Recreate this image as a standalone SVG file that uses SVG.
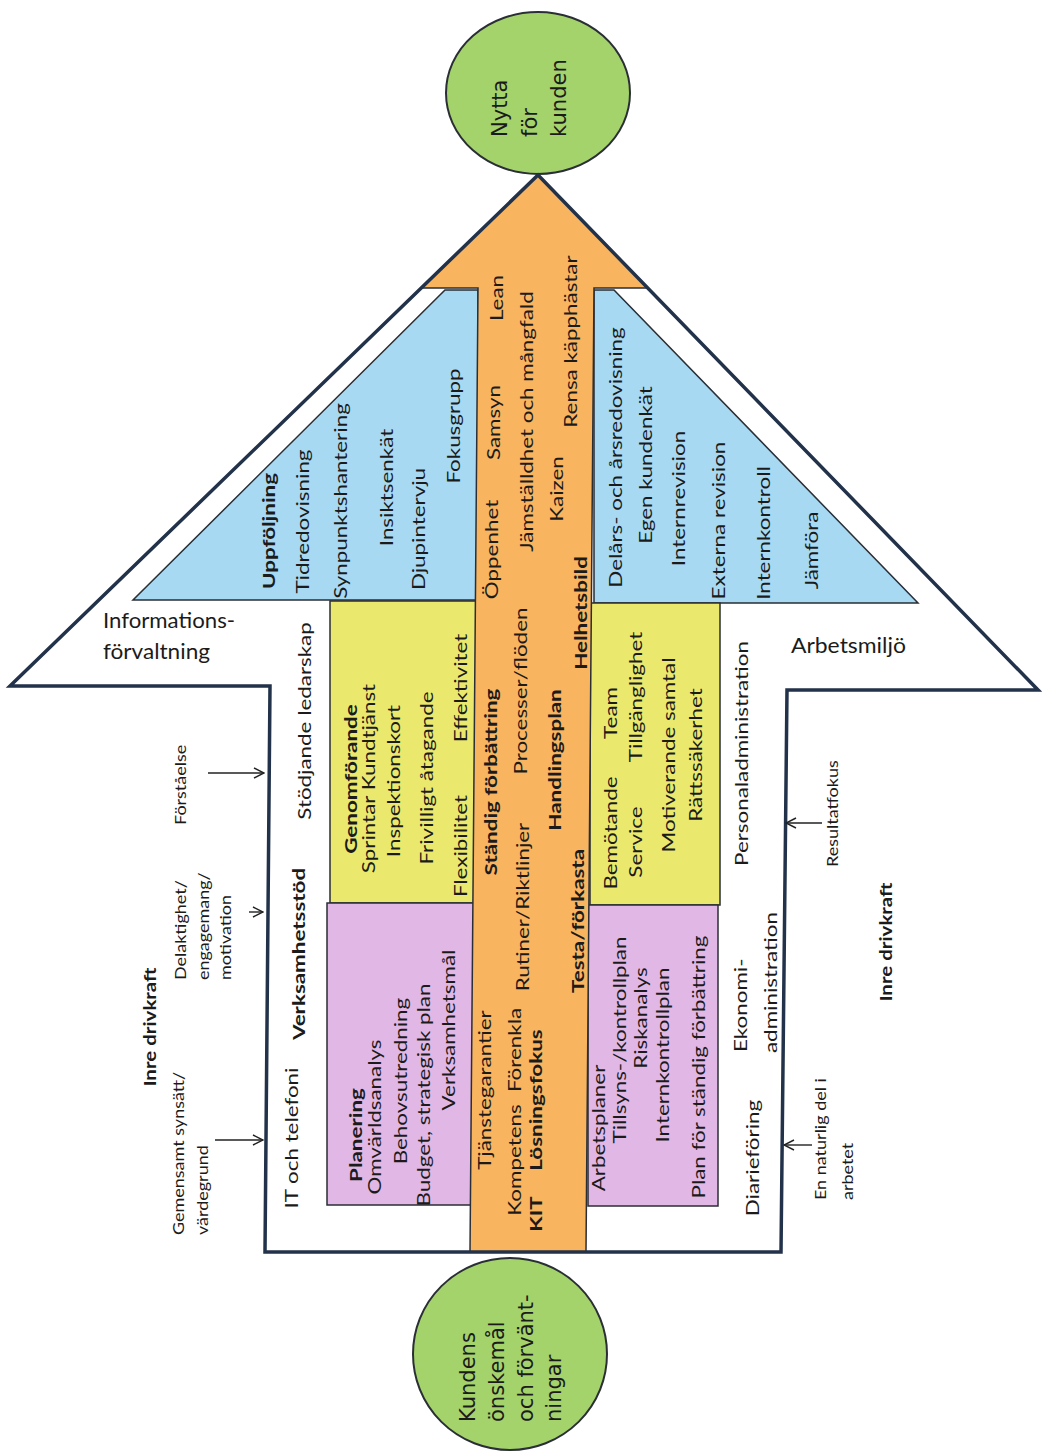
<svg xmlns="http://www.w3.org/2000/svg" width="1042" height="1455" viewBox="0 0 1042 1455">
<defs>
<style>
.t{font-family:Lato,"Liberation Sans",sans-serif;font-size:22.4px;fill:#1b1b1b;dominant-baseline:central;text-anchor:middle}
.b{font-weight:bold}
.s{font-size:18px;text-anchor:start}
.st{text-anchor:start}
.e{font-family:"DejaVu Sans",sans-serif;font-size:21px;fill:#1b1b1b;dominant-baseline:central;text-anchor:start}
.h{font-family:Lato,"Liberation Sans",sans-serif;font-size:21px;fill:#1b1b1b}
.box{stroke:#2a2e35;stroke-width:1.5}
.blue{fill:#a7d9f3}
.yellow{fill:#ebe96d}
.purple{fill:#e1b7e5}
.green{fill:#a4d36b;stroke:#2a2e35;stroke-width:2}
.conn{stroke:#222;stroke-width:1.4;fill:none;marker-end:url(#ah)}
</style>
<marker id="ah" viewBox="0 0 12 12" refX="11" refY="6" markerWidth="12" markerHeight="12" markerUnits="userSpaceOnUse" orient="auto">
<path d="M1,1 L11,6 L1,11" fill="none" stroke="#222" stroke-width="1.4"/>
</marker>
</defs>
<rect width="1042" height="1455" fill="#ffffff"/>

<g id="arrow-body">
<polygon points="538,175 1038,690 787,690 781,1252 265,1252 270,686 10,686" fill="#ffffff"/>
</g>

<g id="uppfoljning">
<polygon class="box blue" points="445,290 478,290 478,600 133,600"/>
<g transform="matrix(0 -1 0.8 0 0 1455)">
<text class="t b" x="924" y="335">Uppföljning</text>
<text class="t" x="933.5" y="377.5">Tidredovisning</text>
<text class="t" x="954" y="425">Synpunktshantering</text>
<text class="t" x="967.5" y="482.5">Insiktsenkät</text>
<text class="t" x="926" y="522.5">Djupintervju</text>
<text class="t" x="1029" y="566">Fokusgrupp</text>
</g>
</g>

<g id="redovisning">
<polygon class="box blue" points="594,290 614,290 918,603 594,603"/>
<g transform="matrix(0 -1 0.8 0 0 1455)">
<text class="t" x="997.5" y="769">Delårs- och årsredovisning</text>
<text class="t" x="990" y="806">Egen kundenkät</text>
<text class="t" x="956.5" y="847.5">Internrevision</text>
<text class="t" x="934.5" y="897.5">Externa revision</text>
<text class="t" x="922" y="954">Internkontroll</text>
<text class="t" x="904.5" y="1014">Jämföra</text>
</g>
</g>

<g id="genomforande">
<rect class="box yellow" x="330" y="601" width="147" height="302"/>
<g transform="matrix(0 -1 0.8 0 0 1455)">
<text class="t b" x="676" y="437.5">Genomförande</text>
<text class="t" x="676.5" y="460">Sprintar Kundtjänst</text>
<text class="t" x="674" y="491">Inspektionskort</text>
<text class="t" x="677" y="532.5">Frivilligt åtagande</text>
<text class="t" x="609" y="575">Flexibilitet</text>
<text class="t" x="767" y="575">Effektivitet</text>
</g>
</g>

<g id="bemotande">
<rect class="box yellow" x="590" y="603" width="130" height="302"/>
<g transform="matrix(0 -1 0.8 0 0 1455)">
<text class="t" x="622" y="762.5">Bemötande</text>
<text class="t" x="742" y="762.5">Team</text>
<text class="t" x="613" y="794">Service</text>
<text class="t" x="758" y="794">Tillgänglighet</text>
<text class="t" x="700" y="835">Motiverande samtal</text>
<text class="t" x="700" y="869">Rättssäkerhet</text>
</g>
</g>

<g id="planering">
<rect class="box purple" x="327" y="903" width="149" height="302"/>
<g transform="matrix(0 -1 0.8 0 0 1455)">
<text class="t b" x="320" y="444">Planering</text>
<text class="t" x="338" y="467.5">Omvärldsanalys</text>
<text class="t" x="374" y="500">Behovsutredning</text>
<text class="t" x="360" y="529">Budget, strategisk plan</text>
<text class="t" x="425" y="560">Verksamhetsmål</text>
</g>
</g>

<g id="arbetsplaner">
<rect class="box purple" x="588" y="905" width="130" height="301"/>
<g transform="matrix(0 -1 0.8 0 0 1455)">
<text class="t" x="327" y="747.5">Arbetsplaner</text>
<text class="t" x="415" y="774">Tillsyns-/kontrollplan</text>
<text class="t" x="437" y="800">Riskanalys</text>
<text class="t" x="400" y="827.5">Internkontrollplan</text>
<text class="t" x="388" y="872.5">Plan för ständig förbättring</text>
</g>
</g>

<g id="ständig-förbättring">
<polygon points="538,175 648,288 594,288 586,1252 470,1252 478,288 421,288" fill="#f8b45f" stroke="#2a2e35" stroke-width="1.5"/>
<g transform="matrix(0 -1 0.8 0 0 1455)">
<text class="t" x="905.5" y="614">Öppenhet</text>
<text class="t" x="1032.5" y="616">Samsyn</text>
<text class="t" x="1157" y="620">Lean</text>
<text class="t" x="1033.5" y="657.5">Jämställdhet och mångfald</text>
<text class="t" x="966" y="695">Kaizen</text>
<text class="t" x="1113.5" y="712.5">Rensa käpphästar</text>
<text class="t b" x="842" y="725">Helhetsbild</text>
<text class="t b" x="673" y="612.5">Ständig förbättring</text>
<text class="t" x="764" y="650">Processer/flöden</text>
<text class="t b" x="695" y="692.5">Handlingsplan</text>
<text class="t" x="548" y="652.5">Rutiner/Riktlinjer</text>
<text class="t b" x="534" y="721">Testa/förkasta</text>
<text class="t" x="365" y="605">Tjänstegarantier</text>
<text class="t" x="295" y="642.5">Kompetens</text>
<text class="t" x="405" y="642.5">Förenkla</text>
<text class="t b" x="355" y="669">Lösningsfokus</text>
<text class="t b" x="241" y="669">KIT</text>
</g>
</g>

<g id="verksamhetsstod">
<text class="h" x="103" y="628" textLength="132" lengthAdjust="spacingAndGlyphs">Informations-</text>
<text class="h" x="103" y="659" textLength="107" lengthAdjust="spacingAndGlyphs">förvaltning</text>
<text class="h" x="791" y="653" textLength="115" lengthAdjust="spacingAndGlyphs">Arbetsmiljö</text>
<g transform="matrix(0 -1 0.8 0 0 1455)">
<text class="t" x="734" y="380">Stödjande ledarskap</text>
<text class="t b" x="501" y="372.5">Verksamhetsstöd</text>
<text class="t" x="317" y="364">IT och telefoni</text>
<text class="t" x="701.5" y="926">Personaladministration</text>
<text class="t st" x="403" y="925">Ekonomi-</text>
<text class="t st" x="402" y="962.5">administration</text>
<text class="t" x="297" y="940">Diarieföring</text>
</g>
</g>

<g id="inre-drivkraft">
<g transform="matrix(0 -1 0.8 0 0 1455)">
<text class="t b" x="428" y="187.5" style="font-size:20.5px">Inre drivkraft</text>
<text class="t b" x="513" y="1107.5" style="font-size:20.5px">Inre drivkraft</text>
<text class="t s" x="220" y="222.5">Gemensamt synsätt/</text>
<text class="t s" x="220" y="252.5">värdegrund</text>
<text class="t s" x="475" y="225">Delaktighet/</text>
<text class="t s" x="475" y="253.75">engagemang/</text>
<text class="t s" x="475" y="281">motivation</text>
<text class="t s" x="630" y="225">Förståelse</text>
<text class="t s" x="588" y="1040">Resultatfokus</text>
<text class="t s" x="255" y="1025">En naturlig del i</text>
<text class="t s" x="255" y="1059">arbetet</text>
</g>
</g>

<g id="nytta-for-kunden">
<ellipse class="green" cx="538" cy="93" rx="92" ry="81"/>
<g transform="matrix(0 -1 1 0 0 1455)">
<text class="e" x="1318" y="500">Nytta</text>
<text class="e" x="1318" y="530">för</text>
<text class="e" x="1318" y="559">kunden</text>
</g>
</g>

<g id="kundens-onskemal">
<ellipse class="green" cx="510" cy="1354" rx="97" ry="96"/>
<g transform="matrix(0 -1 1 0 0 1455)">
<text class="e" x="33" y="468">Kundens</text>
<text class="e" x="33" y="497">önskemål</text>
<text class="e" x="33" y="526">och förvänt-</text>
<text class="e" x="33" y="554">ningar</text>
</g>
</g>

<g id="arrow-outline">
<polygon points="538,175 1038,690 787,690 781,1252 265,1252 270,686 10,686" fill="none" stroke="#22324a" stroke-width="3.5" stroke-linejoin="miter"/>
</g>

<g id="connectors">
<line class="conn" x1="215" y1="1140" x2="263" y2="1140"/>
<line class="conn" x1="249" y1="912" x2="263" y2="912"/>
<line class="conn" x1="208" y1="773" x2="264" y2="773"/>
<line class="conn" x1="822" y1="823" x2="786" y2="823"/>
<line class="conn" x1="812" y1="1145" x2="784" y2="1145"/>
</g>
</svg>
